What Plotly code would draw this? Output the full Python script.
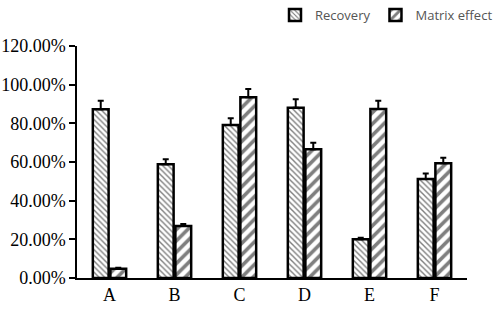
import plotly.graph_objects as go

categories = ["A", "B", "C", "D", "E", "F"]
recovery = [87.3, 58.8, 79.1, 88.1, 20.0, 51.2]
recovery_err = [4.4, 2.6, 3.5, 4.3, 0.8, 2.8]
matrix = [4.8, 26.9, 93.5, 66.6, 87.4, 59.3]
matrix_err = [0.5, 1.0, 4.3, 3.4, 4.3, 2.9]
y_ticks = [0, 20, 40, 60, 80, 100, 120]
y_tick_labels = ["0.00%", "20.00%", "40.00%", "60.00%", "80.00%", "100.00%", "120.00%"]

fig = go.Figure()
fig.add_trace(go.Bar(
    name="Recovery", x=categories, y=recovery,
    marker=dict(color="white", line=dict(color="black", width=2.5),
                pattern=dict(shape="\\", size=4, solidity=0.35, fgcolor="black", bgcolor="white")),
    error_y=dict(type="data", symmetric=False, array=recovery_err, arrayminus=[0]*6,
                 color="black", thickness=2, width=3),
))
fig.add_trace(go.Bar(
    name="Matrix effect", x=categories, y=matrix,
    marker=dict(color="white", line=dict(color="black", width=2.5),
                pattern=dict(shape="/", size=8, solidity=0.45, fgcolor="black", bgcolor="white")),
    error_y=dict(type="data", symmetric=False, array=matrix_err, arrayminus=[0]*6,
                 color="black", thickness=2, width=3),
))

fig.update_layout(
    width=498, height=310,
    margin=dict(l=77, r=31, t=46, b=32, autoexpand=False),
    paper_bgcolor="white", plot_bgcolor="white",
    barmode="group", bargap=0.46, bargroupgap=0.1,
    showlegend=True,
    legend=dict(orientation="h", xref="container", yref="container",
                x=1.0, xanchor="right", y=1.0, yanchor="top",
                font=dict(family="Open Sans", size=13, color="#555"),
                bgcolor="rgba(0,0,0,0)", itemwidth=30, tracegroupgap=0),
    font=dict(family="Liberation Serif", size=18, color="black"),
)
fig.update_xaxes(showline=True, linecolor="black", linewidth=1.5, ticks="",
                 showgrid=False, range=[-0.5, 5.5], automargin=False,
                 tickfont=dict(family="Liberation Serif", size=18, color="black"))
fig.update_yaxes(showline=True, linecolor="black", linewidth=1.5, ticks="outside",
                 ticklen=6, tickcolor="black", tickwidth=1.5,
                 showgrid=False, range=[0, 120], tickvals=y_ticks, ticktext=y_tick_labels,
                 zeroline=False, automargin=False,
                 tickfont=dict(family="Liberation Serif", size=18, color="black"))

fig.write_html("out.html", config={"displayModeBar": False},
               post_script="document.body.style.margin='0';")
